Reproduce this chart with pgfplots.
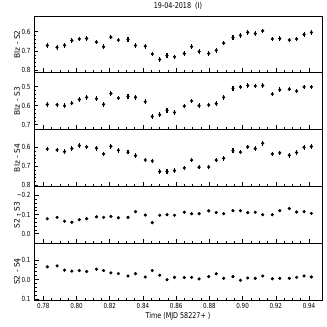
\documentclass[border=0pt]{standalone}
\usepackage{pgfplots}
\pgfplotsset{compat=1.18}
\usepackage{pgfplotstable}
\usepackage{fontspec}
\setmainfont{DejaVu Sans}
\newfontfamily\cond{DejaVu Sans}[FakeStretch=0.8]

\pgfplotstableread{
x a b c d e
0.7824 0.671 0.594 0.609 -0.078 -0.065
0.7883 0.680 0.596 0.614 -0.085 -0.070
0.7928 0.670 0.601 0.623 -0.065 -0.048
0.7972 0.645 0.587 0.607 -0.060 -0.043
0.8017 0.637 0.568 0.591 -0.073 -0.046
0.8061 0.635 0.557 0.598 -0.078 -0.041
0.8120 0.654 0.564 0.605 -0.088 -0.053
0.8163 0.678 0.594 0.635 -0.085 -0.046
0.8207 0.628 0.537 0.595 -0.090 -0.034
0.8252 0.643 0.561 0.616 -0.083 -0.030
0.8310 0.640 0.552 0.626 -0.085 -0.018
0.8355 0.671 0.557 0.644 -0.115 -0.030
0.8414 0.675 0.580 0.667 -0.097 -0.013
0.8456 0.715 0.657 0.672 -0.058 -0.046
0.8501 0.744 0.648 0.728 -0.096 -0.022
0.8545 0.723 0.625 0.728 -0.099 0.001
0.8590 0.730 0.636 0.723 -0.096 -0.011
0.8649 0.713 0.603 0.709 -0.112 -0.010
0.8693 0.677 0.575 0.668 -0.104 -0.011
0.8738 0.703 0.601 0.705 -0.104 -0.003
0.8796 0.713 0.597 0.704 -0.119 -0.015
0.8841 0.696 0.590 0.668 -0.110 -0.029
0.8886 0.659 0.557 0.658 -0.104 -0.006
0.8942 0.630 0.509 0.618 -0.120 -0.015
0.8987 0.619 0.502 0.626 -0.120 0.004
0.9031 0.603 0.495 0.598 -0.110 -0.008
0.9076 0.609 0.497 0.607 -0.112 -0.006
0.9121 0.595 0.495 0.579 -0.099 -0.018
0.9179 0.637 0.540 0.635 -0.099 -0.004
0.9224 0.635 0.517 0.630 -0.120 -0.006
0.9281 0.643 0.514 0.642 -0.131 -0.006
0.9325 0.637 0.524 0.628 -0.113 -0.011
0.9370 0.614 0.502 0.600 -0.115 -0.018
0.9414 0.603 0.502 0.596 -0.106 -0.013
}\data

\pgfplotsset{
  panel/.style={
    at={(0pt,#1)}, anchor=north west,
    scale only axis, width=288pt, height=56.8pt,
    xmin=0.7744, xmax=0.9478,
    y dir=reverse,
    axis line style={line width=0.7pt},
    tick align=inside, xtick pos=bottom, ytick pos=left,
    xtick={0.78,0.80,0.82,0.84,0.86,0.88,0.90,0.92,0.94},
    minor x tick num=3, minor y tick num=4,
    major tick length=4.5pt, minor tick length=2.5pt,
    every tick/.style={black, line width=0.6pt},
    ticklabel style={font=\cond\fontsize{7}{8}\selectfont},
    xticklabels={},
    ylabel style={at={([xshift=-17pt]rel axis cs:0,0.5)}, anchor=center,
      font=\fontsize{7.5}{9}\selectfont},
  },
  pts/.style={only marks, draw=black, fill=black, mark=*, mark size=1.4pt,
    mark options={draw=black, fill=black},
    error bars/.cd, y dir=both, y fixed=#1,
    error bar style={line width=1.1pt, draw=black}, error mark=none},
}

\begin{document}
\begin{tikzpicture}
\path[use as bounding box] (-34pt,16pt) rectangle (293pt,-311pt);

\begin{axis}[panel=0pt, ymin=0.518, ymax=0.813,
  ytick={0.6,0.7,0.8}, yticklabels={0.6,0.7,0.8},
  ylabel={Blz - S2},
  title={19-04-2018\ \ (I)},
  title style={font=\cond\fontsize{8}{9}\selectfont, yshift=-3pt}]
\addplot[pts=0.012] table[x=x,y=a] {\data};
\end{axis}

\begin{axis}[panel=-56.8pt, ymin=0.428, ymax=0.726,
  ytick={0.5,0.6,0.7}, yticklabels={0.5,0.6,0.7},
  ylabel={Blz - S3}]
\addplot[pts=0.012] table[x=x,y=b] {\data};
\end{axis}

\begin{axis}[panel=-113.6pt, ymin=0.507, ymax=0.806,
  ytick={0.6,0.7,0.8}, yticklabels={0.6,0.7,0.8},
  ylabel={Blz - S4}]
\addplot[pts=0.012] table[x=x,y=c] {\data};
\end{axis}

\begin{axis}[panel=-170.4pt, ymin=-0.246, ymax=0.049,
  ytick={-0.2,-0.1,0.0}, yticklabels={−0.2,−0.1,0.0},
  ylabel={S2 - S3}]
\addplot[pts=0.005] table[x=x,y=d] {\data};
\end{axis}

\begin{axis}[panel=-227.2pt, ymin=-0.186, ymax=0.105,
  ytick={-0.1,0.0,0.1}, yticklabels={−0.1,0.0,0.1},
  ylabel={S2 - S4},
  xticklabels={0.78,0.80,0.82,0.84,0.86,0.88,0.90,0.92,0.94},
  xlabel={Time (MJD 58227+ )},
  xlabel style={font=\cond\fontsize{8}{9}\selectfont, yshift=3pt}]
\addplot[pts=0.005] table[x=x,y=e] {\data};
\end{axis}
\end{tikzpicture}
\end{document}
